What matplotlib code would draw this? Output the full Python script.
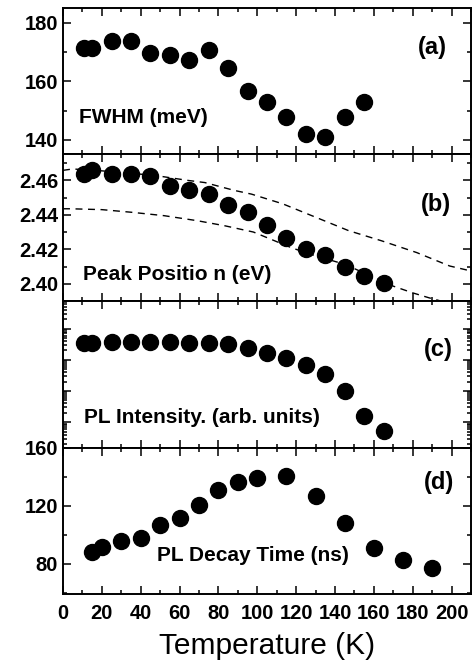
import numpy as np
import matplotlib
matplotlib.use('Agg')
import matplotlib.pyplot as plt
from matplotlib.ticker import MultipleLocator, LogLocator, NullFormatter

plt.rcParams['font.family'] = ['Liberation Sans', 'DejaVu Sans']

# (a) FWHM
t_fwhm = [11, 15, 25, 35, 45, 55, 65, 75, 85, 95, 105, 115, 125, 135, 145, 155]
fwhm = [171.4, 171.4, 173.6, 173.6, 169.7, 168.8, 167.1, 170.8, 164.5, 156.7,
        152.8, 147.9, 141.9, 140.8, 147.9, 152.8]

# (b) peak position
t_peak = [11, 15, 25, 35, 45, 55, 65, 75, 85, 95, 105, 115, 125, 135, 145, 155, 165]
peak = [2.4635, 2.4662, 2.4639, 2.4639, 2.4623, 2.4565, 2.4542, 2.4518, 2.4458,
        2.4415, 2.4343, 2.4263, 2.4201, 2.4166, 2.4100, 2.4045, 2.4002]
t_fit_hi = [0, 5, 20, 47, 64, 73, 88, 97, 113, 130, 147, 164, 182, 199, 210]
fit_hi = [2.4658, 2.4666, 2.4655, 2.4629, 2.4600, 2.4587, 2.4542, 2.4520, 2.4464,
          2.4386, 2.4308, 2.4249, 2.4181, 2.4103, 2.4074]
t_fit_lo = [0, 4, 20, 35, 52, 69, 83, 98, 118, 130, 145, 170, 180, 188.5, 196]
fit_lo = [2.4435, 2.4435, 2.4430, 2.4415, 2.4395, 2.4366, 2.4337, 2.4300, 2.4207,
          2.4162, 2.4113, 2.3986, 2.3947, 2.3918, 2.3895]

# (c) PL intensity (arb. units, log)
t_int = t_peak
intensity = [3573, 3573, 3846, 3846, 3846, 3846, 3573, 3573, 3177, 2367, 1713,
             1186, 693, 351, 103, 16.4, 5.2]

# (d) decay time
t_tau = [15, 20, 30, 40, 50, 60, 70, 80, 90, 100, 115, 130, 145, 160, 175, 190]
tau = [88.2, 91.7, 95.5, 97.7, 106.7, 111.7, 120.4, 130.4, 136.0, 138.9, 140.4,
       126.7, 107.7, 90.4, 82.2, 77.1]

fig, axes = plt.subplots(4, 1, figsize=(4.72, 6.64), dpi=100, sharex=True)
fig.subplots_adjust(left=0.1335, right=0.998, top=0.988, bottom=0.1054, hspace=0)

bold = dict(fontweight='bold', fontsize=15)
ms = 11.5

for ax in axes:
    ax.set_xlim(0, 210)
    ax.xaxis.set_major_locator(MultipleLocator(20))
    ax.xaxis.set_minor_locator(MultipleLocator(10))
    ax.tick_params(which='both', direction='in', top=True, right=True, width=1.1)
    ax.tick_params(which='major', length=6)
    ax.tick_params(which='minor', length=3)
    ax.tick_params(axis='both', labelsize=14.5)
    ax.tick_params(axis='x', pad=7)
    for s in ax.spines.values():
        s.set_linewidth(1.4)

ax = axes[0]
ax.plot(t_fwhm, fwhm, 'o', color='black', ms=ms)
ax.set_ylim(135, 185)
ax.yaxis.set_major_locator(MultipleLocator(20))
ax.yaxis.set_minor_locator(MultipleLocator(10))
ax.text(0.905, 0.73, '(a)', transform=ax.transAxes, ha='center', va='center',
        fontweight='bold', fontsize=17)
ax.text(0.04, 0.25, 'FWHM (meV)', transform=ax.transAxes, ha='left', va='center', **bold)

ax = axes[1]
ax.plot(t_fit_hi, fit_hi, color='black', lw=1.0, ls=(0, (5, 4)))
ax.plot(t_fit_lo, fit_lo, color='black', lw=1.0, ls=(0, (5, 4)))
ax.plot(t_peak, peak, 'o', color='black', ms=ms)
ax.set_ylim(2.39, 2.475)
ax.yaxis.set_major_locator(MultipleLocator(0.02))
ax.yaxis.set_minor_locator(MultipleLocator(0.01))
ax.yaxis.set_major_formatter(matplotlib.ticker.FormatStrFormatter('%.2f'))
ax.text(0.915, 0.66, '(b)', transform=ax.transAxes, ha='center', va='center',
        fontweight='bold', fontsize=17)
ax.text(0.05, 0.18, 'Peak Positio n (eV)', transform=ax.transAxes, ha='left', va='center', **bold)

ax = axes[2]
ax.plot(t_int, intensity, 'o', color='black', ms=ms)
ax.set_yscale('log')
ax.set_ylim(1.56, 76560)
ax.yaxis.set_major_locator(LogLocator(base=10, numticks=10))
ax.yaxis.set_minor_locator(LogLocator(base=10, subs=np.arange(2, 10), numticks=10))
ax.yaxis.set_major_formatter(NullFormatter())
ax.yaxis.set_minor_formatter(NullFormatter())
ax.text(0.92, 0.67, '(c)', transform=ax.transAxes, ha='center', va='center',
        fontweight='bold', fontsize=17)
ax.text(0.052, 0.205, 'PL Intensity. (arb. units)', transform=ax.transAxes,
        ha='left', va='center', **bold)

ax = axes[3]
ax.plot(t_tau, tau, 'o', color='black', ms=ms)
ax.set_ylim(59, 160)
ax.yaxis.set_major_locator(MultipleLocator(40))
ax.yaxis.set_minor_locator(MultipleLocator(20))
ax.text(0.922, 0.76, '(d)', transform=ax.transAxes, ha='center', va='center',
        fontweight='bold', fontsize=17)
ax.text(0.23, 0.26, 'PL Decay Time (ns)', transform=ax.transAxes, ha='left', va='center', **bold)
ax.set_xlabel('Temperature (K)', fontsize=21.5, labelpad=7)

for ax in axes:
    for lab in ax.get_xticklabels() + ax.get_yticklabels():
        lab.set_fontweight('bold')

fig.savefig('out.png', dpi=100)
